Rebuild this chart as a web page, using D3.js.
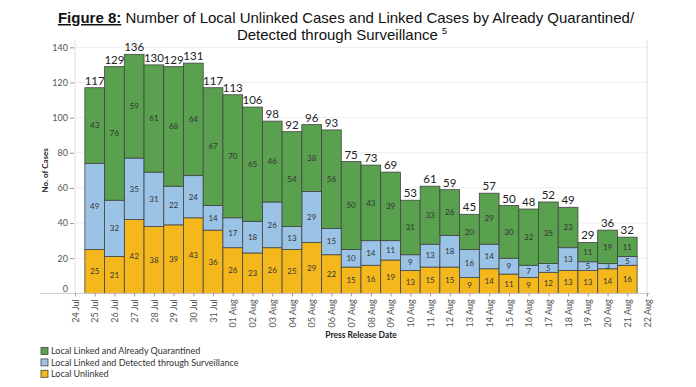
<!DOCTYPE html>
<html lang="en">
<head>
<meta charset="utf-8">
<title>Figure 8</title>
<script src="https://cdn.jsdelivr.net/npm/d3@7"></script>
<style>
  body { margin: 0; background: #fff; }
  .axis path { stroke: #ccc; }
  .axis line { stroke: #999; }
  .axis text { font-family: Lato, sans-serif; font-size: 9px; fill: #555; }
  .grid line { stroke: #eee; }
  .lbl { font-family: Lato, sans-serif; font-size: 8px; fill: #333; }
  .tot { font-family: Lato, sans-serif; font-size: 11.5px; fill: #222; }
</style>
</head>
<body>
<div id="chart"></div>
<script>
// press release dates (2020), one bar per day
var dates = ["2020-07-25","2020-07-26","2020-07-27","2020-07-28","2020-07-29","2020-07-30","2020-07-31",
  "2020-08-01","2020-08-02","2020-08-03","2020-08-04","2020-08-05","2020-08-06","2020-08-07","2020-08-08",
  "2020-08-09","2020-08-10","2020-08-11","2020-08-12","2020-08-13","2020-08-14","2020-08-15","2020-08-16",
  "2020-08-17","2020-08-18","2020-08-19","2020-08-20","2020-08-21"];
var unlinked     = [25,21,42,38,39,43,36,26,23,26,25,29,22,15,16,19,13,15,15,9,14,11,9,12,13,13,14,16];
var surveillance = [49,32,35,31,22,24,14,17,18,26,13,29,15,10,14,11,9,13,18,16,14,9,7,5,13,5,3,5];
var quarantined  = [43,76,59,61,68,64,67,70,65,46,54,38,56,50,43,39,31,33,26,20,29,30,32,35,23,11,19,11];
var seriesNames = ["Local Unlinked","Local Linked and Detected through Surveillance","Local Linked and Already Quarantined"];
var colors = ["#f5b81c","#9bc3e6","#59a14f"];
var yTicks = [0,20,40,60,80,100,120,140];
var axisStart = "2020-07-24", axisEnd = "2020-08-22";

var W = 696, H = 387;
var plotL = 75, plotR = 647, plotT = 47.3, plotB = 293.4;

var parse = d3.utcParse("%Y-%m-%d");
var rows = dates.map(function(d, i) {
  return {date: parse(d), u: unlinked[i], s: surveillance[i], q: quarantined[i]};
});

var svg = d3.select("#chart").append("svg").attr("width", W).attr("height", H);

var x = d3.scaleUtc().domain([parse(axisStart), parse(axisEnd)]).range([plotL, plotR]);
var y = d3.scaleLinear().domain([0, 140]).range([plotB, plotT]);
var step = x(parse(dates[1])) - x(parse(dates[0]));

// title
var t1 = svg.append("text").attr("x", 346).attr("y", 23).attr("text-anchor", "middle")
  .style("font-family", "'Liberation Sans', Arial, sans-serif").style("font-size", "15px").style("fill", "#111");
t1.append("tspan").style("font-weight", "bold").style("text-decoration", "underline").text("Figure 8:");
t1.append("tspan").text(" Number of Local Unlinked Cases and Linked Cases by Already Quarantined/");
var t2 = svg.append("text").attr("x", 342).attr("y", 40).attr("text-anchor", "middle")
  .style("font-family", "'Liberation Sans', Arial, sans-serif").style("font-size", "15px").style("fill", "#111");
t2.append("tspan").text("Detected through Surveillance ");
t2.append("tspan").attr("dy", -6).style("font-size", "9px").text("5");

// grid
svg.append("g").attr("class", "grid").selectAll("line").data(yTicks.slice(1)).enter().append("line")
  .attr("x1", plotL).attr("x2", plotR).attr("y1", function(d){ return y(d); }).attr("y2", function(d){ return y(d); });

svg.append("line").attr("x1", plotR).attr("x2", plotR).attr("y1", 40).attr("y2", plotB + 4).attr("stroke", "#ddd");
svg.append("line").attr("x1", plotL).attr("x2", plotL).attr("y1", 40).attr("y2", plotB).attr("stroke", "#ddd");

// y axis
var yAxis = svg.append("g").attr("class", "axis").attr("transform", "translate(" + (plotL - 1) + ",0)")
  .call(d3.axisLeft(y).tickValues(yTicks).tickSize(4).tickPadding(2));
yAxis.select(".domain").remove();
yAxis.selectAll(".tick").filter(function(d){ return d === 0; }).select("text").attr("dy", "-0.25em");
yAxis.selectAll(".tick").filter(function(d){ return d === 0; }).select("line").remove();

svg.append("text").attr("transform", "translate(48," + ((plotT + plotB) / 2) + ") rotate(-90)")
  .attr("text-anchor", "middle").style("font-family", "Lato, sans-serif").style("font-size", "8px")
  .style("font-weight", "bold").style("fill", "#222").text("No. of Cases");

// stacked bars
var stack = d3.stack().keys(["u", "s", "q"]);
var layers = stack(rows);

var g = svg.append("g");
layers.forEach(function(layer, li) {
  g.selectAll(".bar" + li).data(layer).enter().append("rect")
    .attr("x", function(d){ return x(d.data.date) - step / 2; })
    .attr("width", step)
    .attr("y", function(d){ return y(d[1]); })
    .attr("height", function(d){ return y(d[0]) - y(d[1]); })
    .attr("fill", colors[li]).attr("stroke", "#444").attr("stroke-width", 0.8);
  g.selectAll(".lbl" + li).data(layer).enter().append("text").attr("class", "lbl")
    .attr("x", function(d){ return x(d.data.date); })
    .attr("y", function(d){ return y((d[0] + d[1]) / 2); })
    .attr("dy", "0.35em").attr("text-anchor", "middle")
    .text(function(d){ return d[1] - d[0]; });
});

g.selectAll(".tot").data(rows).enter().append("text").attr("class", "tot")
  .attr("x", function(d){ return x(d.date); })
  .attr("y", function(d){ return y(d.u + d.s + d.q) - 3; })
  .attr("text-anchor", "middle")
  .text(function(d){ return d.u + d.s + d.q; });

// x axis
svg.append("line").attr("x1", 40).attr("x2", plotR + 3).attr("y1", plotB).attr("y2", plotB).attr("stroke", "#ccc");
var xAxis = svg.append("g").attr("class", "axis").attr("transform", "translate(0," + plotB + ")")
  .call(d3.axisBottom(x).ticks(d3.utcDay.every(1)).tickFormat(d3.utcFormat("%d %b")).tickSize(3));
xAxis.select(".domain").remove();
xAxis.selectAll("text").attr("transform", "rotate(-90)").attr("text-anchor", "end")
  .attr("x", -6).attr("y", 0).attr("dy", "0.35em");

svg.append("text").attr("x", (plotL + plotR) / 2).attr("y", 338).attr("text-anchor", "middle")
  .style("font-family", "Lato, sans-serif").style("font-size", "8.5px").style("font-weight", "bold")
  .style("fill", "#222").text("Press Release Date");

// legend
var legendOrder = [2, 1, 0];
var lg = svg.selectAll(".legend").data(legendOrder).enter().append("g")
  .attr("transform", function(d, i){ return "translate(41," + (347.5 + i * 11.4) + ")"; });
lg.append("rect").attr("width", 7).attr("height", 7)
  .attr("fill", function(d){ return colors[d]; }).attr("stroke", "#444").attr("stroke-width", 0.8);
lg.append("text").attr("x", 10).attr("y", 3.5).attr("dy", "0.35em")
  .style("font-family", "Lato, sans-serif").style("font-size", "9px").style("fill", "#333")
  .text(function(d){ return seriesNames[d]; });
</script>
</body>
</html>
